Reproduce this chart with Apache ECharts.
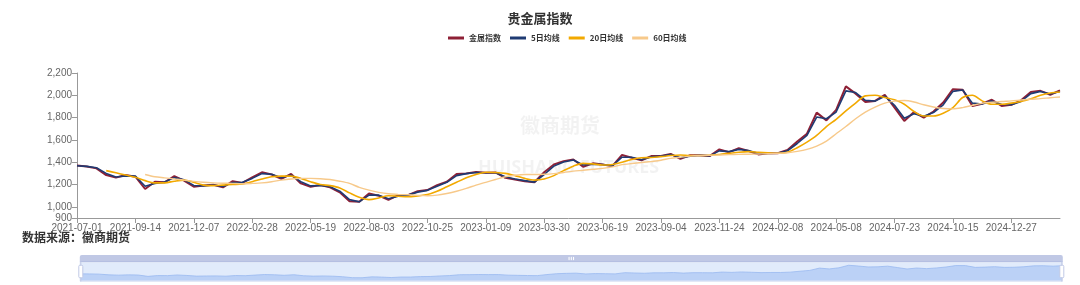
<!DOCTYPE html>
<html lang="zh">
<head>
    <meta charset="UTF-8">
    <title>贵金属指数</title>
    <script src="https://cdn.jsdelivr.net/npm/echarts@6/dist/echarts.min.js"></script>
    <style>
        html, body { margin: 0; padding: 0; background: #fff; }
        #main { width: 1080px; height: 285px; }
    </style>
</head>
<body>
<div id="main"></div>
<script type="text/javascript">
    // 日期（约每9个交易日取一个点）
    var dates = [
        '2021-07-01','2021-07-14','2021-07-27','2021-08-09','2021-08-20','2021-09-02',
        '2021-09-14','2021-09-29','2021-10-20','2021-11-01','2021-11-11','2021-11-24',
        '2021-12-07','2021-12-17','2021-12-29','2022-01-11','2022-01-21','2022-02-11',
        '2022-02-28','2022-03-10','2022-03-22','2022-04-01','2022-04-15','2022-05-06',
        '2022-05-19','2022-05-31','2022-06-13','2022-06-23','2022-07-06','2022-07-20',
        '2022-08-03','2022-08-15','2022-08-25','2022-09-06','2022-09-19','2022-10-10',
        '2022-10-25','2022-11-04','2022-11-16','2022-11-28','2022-12-08','2022-12-20',
        '2023-01-09','2023-01-19','2023-02-08','2023-02-20','2023-03-02','2023-03-16',
        '2023-03-30','2023-04-12','2023-04-24','2023-05-10','2023-05-22','2023-06-05',
        '2023-06-19','2023-06-30','2023-07-13','2023-07-25','2023-08-04','2023-08-22',
        '2023-09-04','2023-09-14','2023-09-26','2023-10-17','2023-10-27','2023-11-08',
        '2023-11-24','2023-12-06','2023-12-18','2023-12-28','2024-01-10','2024-01-24',
        '2024-02-08','2024-02-29','2024-03-12','2024-03-22','2024-04-03','2024-04-19',
        '2024-05-08','2024-05-20','2024-05-30','2024-06-12','2024-06-25','2024-07-05',
        '2024-07-23','2024-08-02','2024-08-14','2024-08-26','2024-09-05','2024-09-19',
        '2024-10-15','2024-10-25','2024-11-06','2024-11-18','2024-11-28','2024-12-12',
        '2024-12-27','2025-01-09','2025-01-22','2025-02-12','2025-02-25','2025-03-10'
    ];
    // 金属指数
    var indexData = [
        1370,1362,1345,1285,1262,1285,1270,1160,1225,1220,1275,1235,
        1180,1192,1198,1175,1230,1215,1265,1310,1290,1250,1295,1210,
        1180,1195,1175,1130,1050,1045,1120,1100,1062,1105,1105,1140,
        1150,1195,1225,1295,1300,1312,1305,1308,1260,1245,1230,1220,
        1310,1380,1410,1425,1360,1390,1380,1365,1465,1440,1418,1455,
        1455,1475,1430,1463,1463,1455,1515,1490,1525,1500,1470,1480,
        1480,1510,1585,1655,1845,1775,1870,2080,2015,1940,1950,2005,
        1890,1770,1850,1800,1855,1935,2055,2050,1905,1925,1960,1905,
        1915,1955,2030,2040,2005,2045
    ];
    // 5日均线
    var ma5 = [
        1368,1363,1350,1300,1268,1278,1275,1185,1210,1222,1262,1242,
        1192,1188,1196,1182,1218,1220,1255,1298,1292,1260,1285,1225,
        1188,1192,1180,1140,1065,1045,1105,1105,1072,1095,1105,1132,
        1148,1185,1220,1280,1298,1308,1306,1306,1270,1250,1235,1222,
        1290,1365,1402,1420,1375,1382,1380,1368,1445,1445,1422,1448,
        1455,1470,1440,1455,1462,1457,1502,1495,1515,1505,1478,1478,
        1480,1503,1568,1640,1805,1790,1850,2040,2025,1955,1948,1992,
        1910,1795,1835,1812,1845,1915,2035,2048,1930,1922,1950,1918,
        1915,1945,2015,2035,2012,2035
    ];
    // 20日均线
    var ma20 = [
        null,null,null,1325,1305,1285,1265,1235,1215,1215,1230,1240,
        1220,1195,1190,1195,1200,1205,1225,1250,1270,1275,1275,1255,
        1225,1200,1190,1170,1125,1085,1065,1080,1100,1095,1090,1098,
        1110,1140,1180,1220,1260,1290,1310,1308,1300,1280,1255,1240,
        1250,1280,1325,1365,1390,1385,1375,1380,1400,1425,1440,1442,
        1450,1460,1465,1460,1460,1462,1470,1480,1490,1495,1490,1485,
        1480,1490,1530,1580,1640,1720,1785,1860,1930,1995,2000,1980,
        1960,1920,1855,1815,1815,1840,1890,1980,2000,1950,1920,1920,
        1930,1945,1970,2000,2020,2030
    ];
    // 60日均线
    var ma60 = [
        null,null,null,null,null,null,null,1290,1270,1260,1250,1240,
        1228,1220,1215,1212,1210,1207,1210,1215,1225,1240,1250,1255,
        1255,1252,1245,1230,1210,1175,1150,1130,1117,1112,1108,1103,
        1100,1105,1120,1140,1165,1195,1220,1245,1270,1283,1290,1290,
        1292,1298,1308,1320,1328,1337,1345,1358,1378,1388,1397,1407,
        1418,1435,1445,1455,1460,1462,1465,1468,1470,1472,1474,1476,
        1480,1485,1497,1515,1545,1590,1655,1720,1790,1850,1895,1930,
        1948,1953,1940,1915,1895,1882,1878,1890,1910,1928,1938,1945,
        1950,1958,1965,1970,1978,1985
    ];
    var legendNames = ['金属指数', '5日均线', '20日均线', '60日均线'];

    var chart = echarts.init(document.getElementById('main'));
    var option = {
        animation: false,
        //表头
        title: {
            text: '贵金属指数',
            left: 'center',
            top: 7,
            textStyle: {
                fontSize: 13,
                fontWeight: 'bold',
                color: '#333',
                fontFamily: 'Noto Sans CJK SC'
            }
        },
        //图例
        legend: {
            data: legendNames,
            top: 29,
            left: 443,
            icon: 'rect',
            itemWidth: 16,
            itemHeight: 3,
            itemGap: 9,
            textStyle: {
                fontSize: 8,
                fontWeight: 'bold',
                color: '#333',
                fontFamily: 'Noto Sans CJK SC'
            }
        },
        tooltip: {
            trigger: 'axis'
        },
        grid: {
            left: 77,
            right: 20,
            top: 73,
            bottom: 67
        },
        //横坐标
        xAxis: {
            type: 'category',
            data: dates,
            boundaryGap: false,
            axisLine: { lineStyle: { color: '#999' } },
            axisTick: { interval: 5, lineStyle: { color: '#999' } },
            axisLabel: {
                interval: 5,
                color: '#666',
                fontSize: 10,
                margin: 5
            }
        },
        //纵坐标
        yAxis: {
            type: 'value',
            min: 900,
            max: 2200,
            splitNumber: 7,
            axisLine: { show: true, lineStyle: { color: '#999' } },
            axisTick: { show: true, lineStyle: { color: '#999' } },
            splitLine: { show: false },
            axisLabel: { color: '#666', fontSize: 10, margin: 5 }
        },
        dataZoom: [
            {
                type: 'slider',
                left: 77,
                right: 20,
                bottom: 10,
                height: 20,
                start: 0,
                end: 100,
                showDetail: false,
                fillerColor: 'rgba(135,175,240,0.25)',
                dataBackground: {
                    lineStyle: { color: '#a9c1ee', width: 0.8 },
                    areaStyle: { color: '#c9d8f6', opacity: 0.6 }
                },
                selectedDataBackground: {
                    lineStyle: { color: '#9fbcf0', width: 0.8 },
                    areaStyle: { color: '#b7cdf6', opacity: 0.7 }
                }
            }
        ],
        graphic: [
            {
                type: 'text',
                left: 22,
                top: 231,
                style: {
                    text: '数据来源：徽商期货',
                    fontSize: 12,
                    fontWeight: 'bold',
                    fill: '#333',
                    fontFamily: 'Noto Sans CJK SC'
                }
            },
            {
                type: 'text',
                left: 520,
                top: 115,
                z: -1,
                style: {
                    text: '徽商期货',
                    fontSize: 20,
                    fontWeight: 'bold',
                    fill: 'rgba(0,0,0,0.05)',
                    fontFamily: 'Noto Sans CJK SC'
                }
            },
            {
                type: 'text',
                left: 478,
                top: 159,
                z: -1,
                style: {
                    text: 'HUISHANG FUTURES',
                    fontSize: 18,
                    fontWeight: 'bold',
                    fill: 'rgba(0,0,0,0.05)',
                    fontFamily: 'Open Sans'
                }
            }
        ],
        //系列值
        series: [
            {
                name: '金属指数',
                type: 'line',
                data: indexData,
                showSymbol: false,
                lineStyle: { width: 2, color: '#8e2036' },
                itemStyle: { color: '#8e2036' }
            },
            {
                name: '5日均线',
                type: 'line',
                data: ma5,
                showSymbol: false,
                lineStyle: { width: 1.6, color: '#1f3b73' },
                itemStyle: { color: '#1f3b73' }
            },
            {
                name: '20日均线',
                type: 'line',
                data: ma20,
                showSymbol: false,
                smooth: 0.3,
                lineStyle: { width: 1.6, color: '#f2a900' },
                itemStyle: { color: '#f2a900' }
            },
            {
                name: '60日均线',
                type: 'line',
                data: ma60,
                showSymbol: false,
                smooth: 0.3,
                lineStyle: { width: 1.4, color: '#f7c98a' },
                itemStyle: { color: '#f7c98a' }
            }
        ]
    };
    chart.setOption(option);
</script>
</body>
</html>
